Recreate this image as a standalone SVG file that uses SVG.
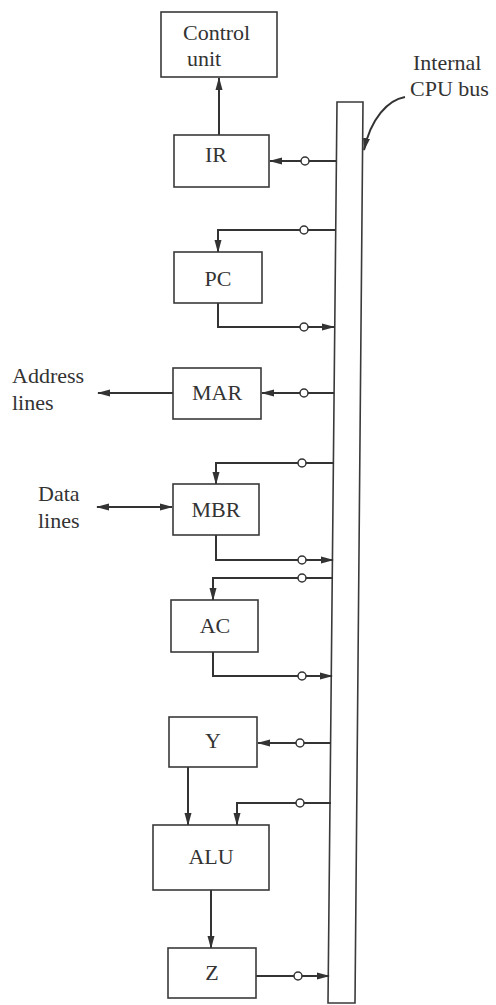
<svg xmlns="http://www.w3.org/2000/svg" width="496" height="1005" viewBox="0 0 496 1005">
<defs>
<style>
.box{fill:#fff;stroke:#3a3a3a;stroke-width:1.6}
.lbl{font-family:"Liberation Serif","Times New Roman",serif;font-size:22px;fill:#333}
.wire{fill:none;stroke:#333;stroke-width:2}
.sw{fill:#fff;stroke:#333;stroke-width:1.5}
.bus{fill:#fff;stroke:#3a3a3a;stroke-width:1.6}
</style>
<marker id="ah" markerUnits="userSpaceOnUse" markerWidth="13" markerHeight="8" refX="12" refY="4" orient="auto-start-reverse">
<path d="M0,0.5 L13,4 L0,7.5 z" fill="#333"/>
</marker>
</defs>
<rect width="496" height="1005" fill="#fff"/>

<g id="bus">
<polygon class="bus" points="337,102 363,102 355,1003 328,1003"/>
</g>

<g id="connectors">
<path class="wire" d="M219,135 V78" marker-end="url(#ah)"/>
<path class="wire" d="M336,161 H270" marker-end="url(#ah)"/>
<path class="wire" d="M336,230 H218 V252" marker-end="url(#ah)"/>
<path class="wire" d="M218,303 V327 H334" marker-end="url(#ah)"/>
<path class="wire" d="M334,393 H262" marker-end="url(#ah)"/>
<path class="wire" d="M173,393 H98" marker-end="url(#ah)"/>
<path class="wire" d="M334,463 H216 V484" marker-end="url(#ah)"/>
<path class="wire" d="M97,507 H172" marker-start="url(#ah)" marker-end="url(#ah)"/>
<path class="wire" d="M216,535 V560 H333" marker-end="url(#ah)"/>
<path class="wire" d="M333,578 H213 V600" marker-end="url(#ah)"/>
<path class="wire" d="M213,652 V676 H332" marker-end="url(#ah)"/>
<path class="wire" d="M331,743 H258" marker-end="url(#ah)"/>
<path class="wire" d="M188,767 V825" marker-end="url(#ah)"/>
<path class="wire" d="M331,803 H237 V825" marker-end="url(#ah)"/>
<path class="wire" d="M211,890 V948" marker-end="url(#ah)"/>
<path class="wire" d="M256,976 H329" marker-end="url(#ah)"/>
<path class="wire" stroke-width="2.5" d="M405,97 C388,100 371,118 364,150" marker-end="url(#ah)"/>
<circle class="sw" cx="305" cy="161" r="4"/>
<circle class="sw" cx="304" cy="230" r="4"/>
<circle class="sw" cx="304" cy="327" r="4"/>
<circle class="sw" cx="304" cy="393" r="4"/>
<circle class="sw" cx="302" cy="463" r="4"/>
<circle class="sw" cx="302" cy="560" r="4"/>
<circle class="sw" cx="302" cy="578" r="4"/>
<circle class="sw" cx="302" cy="676" r="4"/>
<circle class="sw" cx="300" cy="743" r="4"/>
<circle class="sw" cx="300" cy="803" r="4"/>
<circle class="sw" cx="298" cy="976" r="4"/>
</g>

<g id="control-unit">
<rect class="box" x="161" y="12" width="116" height="65"/>
<text class="lbl" x="183" y="40">Control</text>
<text class="lbl" x="187" y="66">unit</text>
</g>
<g id="ir">
<rect class="box" x="174" y="135" width="95" height="52"/>
<text class="lbl" x="216" y="162" text-anchor="middle">IR</text>
</g>
<g id="pc">
<rect class="box" x="174" y="252" width="88" height="51"/>
<text class="lbl" x="218" y="286" text-anchor="middle">PC</text>
</g>
<g id="mar">
<rect class="box" x="173" y="368" width="88" height="51"/>
<text class="lbl" x="217" y="400" text-anchor="middle">MAR</text>
</g>
<g id="mbr">
<rect class="box" x="173" y="484" width="86" height="51"/>
<text class="lbl" x="216" y="517" text-anchor="middle">MBR</text>
</g>
<g id="ac">
<rect class="box" x="171" y="600" width="87" height="52"/>
<text class="lbl" x="215" y="633" text-anchor="middle">AC</text>
</g>
<g id="y">
<rect class="box" x="169" y="717" width="88" height="50"/>
<text class="lbl" x="213" y="748" text-anchor="middle">Y</text>
</g>
<g id="alu">
<rect class="box" x="153" y="825" width="116" height="65"/>
<text class="lbl" x="211" y="864" text-anchor="middle">ALU</text>
</g>
<g id="z">
<rect class="box" x="168" y="948" width="88" height="50"/>
<text class="lbl" x="212" y="980" text-anchor="middle">Z</text>
</g>
<g id="address-lines">
<text class="lbl" x="12" y="383">Address</text>
<text class="lbl" x="12" y="410">lines</text>
</g>
<g id="data-lines">
<text class="lbl" x="38" y="501">Data</text>
<text class="lbl" x="38" y="528">lines</text>
</g>
<g id="bus-label">
<text class="lbl" x="413" y="70">Internal</text>
<text class="lbl" x="410" y="96">CPU bus</text>
</g>
</svg>
